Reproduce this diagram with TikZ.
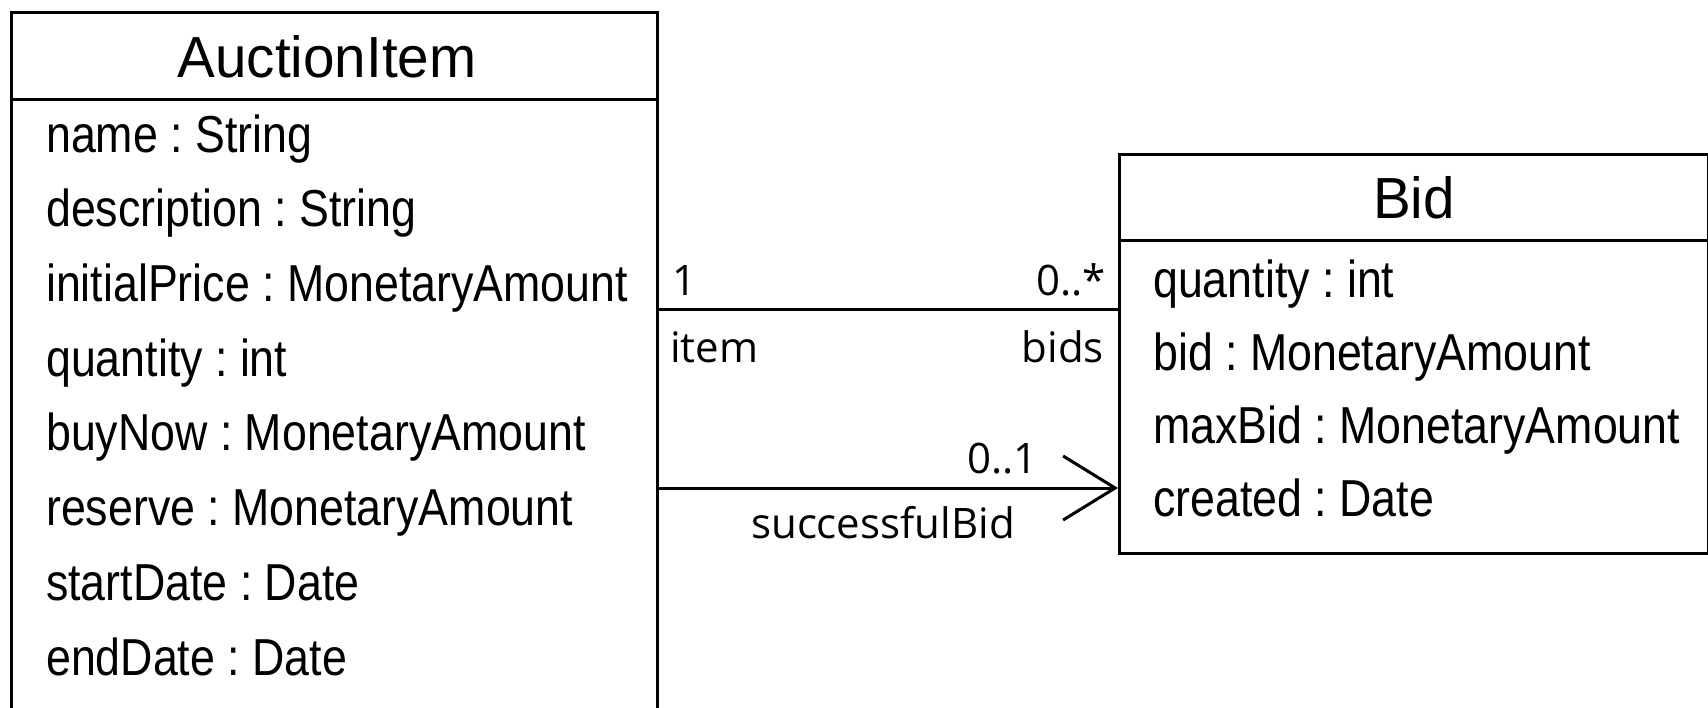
\documentclass[tikz,border=0pt]{standalone}
\usepackage{fontspec}
\setmainfont{Liberation Sans}
\newfontfamily\attrfont{Liberation Sans}[FakeStretch=0.86]
\newfontfamily\titlefont{Liberation Sans}[FakeStretch=0.975]
\newfontfamily\labelfont{Open Sans}
\usetikzlibrary{arrows.meta}
\begin{document}
\frenchspacing
\begin{tikzpicture}[x=1pt,y=-1pt,
  box/.style={draw, line width=3pt, inner sep=0pt},
  sepline/.style={line width=3pt},
  classtitle/.style={inner sep=0pt, anchor=base, font=\titlefont\fontsize{58}{62}\selectfont},
  attr/.style={anchor=base west, inner sep=0pt, font=\attrfont\fontsize{52}{56}\selectfont},
  lbl/.style={inner sep=0pt, font=\labelfont\fontsize{42}{46}\selectfont},
  conn/.style={line width=3pt}]
\useasboundingbox (0,0) rectangle (1708,707);
\clip (0,0) rectangle (1708,707);
% AuctionItem class
\node[box, minimum width=646pt, minimum height=760pt, anchor=north west] (ai) at (10,11) {};
\coordinate (aisep) at (0,99);
\draw[sepline] (ai.west |- aisep) -- (ai.east |- aisep);
\node[classtitle] (aititle) at (327,77) {AuctionItem};
\node[attr] (a1) at (46,152) {name : String};
\node[attr] (a2) at (46,226) {description : String};
\node[attr] (a3) at (46,301) {initialPrice : MonetaryAmount};
\node[attr] (a4) at (46,376) {quantity : int};
\node[attr] (a5) at (46,450) {buyNow : MonetaryAmount};
\node[attr] (a6) at (46,525) {reserve : MonetaryAmount};
\node[attr] (a7) at (46,600) {startDate : Date};
\node[attr] (a8) at (46,675) {endDate : Date};
% Bid class
\node[box, minimum width=589pt, minimum height=399pt, anchor=north west] (bid) at (1118,153) {};
\coordinate (bidsep) at (0,240);
\draw[sepline] (bid.west |- bidsep) -- (bid.east |- bidsep);
\coordinate (bidbase) at (0,218);
\node[classtitle] (bidtitle) at (bid.north |- bidbase) {Bid};
\node[attr] (b1) at (1153,297) {quantity : int};
\node[attr] (b2) at (1153,370) {bid : MonetaryAmount};
\node[attr] (b3) at (1153,443) {maxBid : MonetaryAmount};
\node[attr] (b4) at (1153,516) {created : Date};
% associations
\coordinate (l1) at (0,309);
\coordinate (l2) at (0,488);
\draw[conn] (ai.east |- l1) -- (bid.west |- l1);
\draw[conn, -{Straight Barb[length=52pt, width=64pt]}] (ai.east |- l2) -- (bid.west |- l2);
\node[lbl, anchor=base west] (m1) at (672,295) {1};
\node[lbl, anchor=base east] (m2) at (1106,295) {0..*};
\node[lbl, anchor=base west] (r1) at (670,362) {item};
\node[lbl, anchor=base east] (r2) at (1104,362) {bids};
\node[lbl, anchor=base east] (m3) at (1038,473) {0..1};
\node[lbl, anchor=base] (r3) at (883,538) {successfulBid};
\end{tikzpicture}
\end{document}
